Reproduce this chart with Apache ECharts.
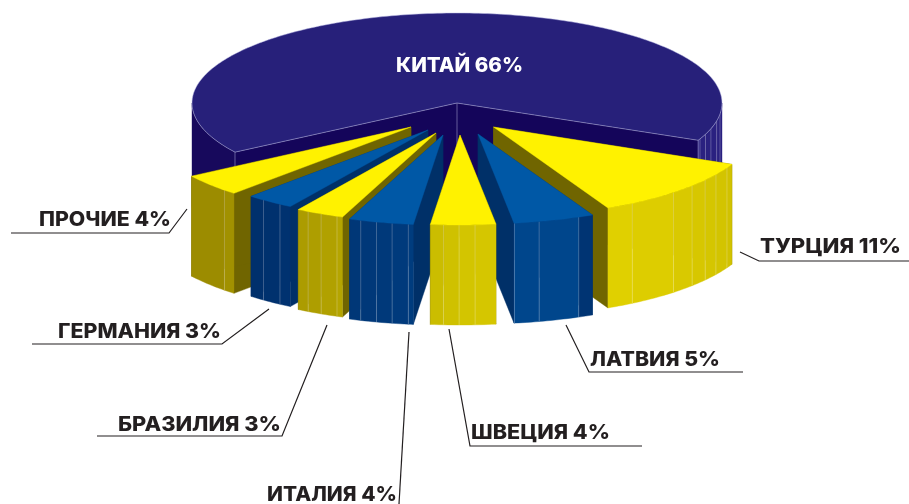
<!DOCTYPE html>
<html>
<head>
<meta charset="utf-8">
<title>Exploded 3D pie</title>
<script src="https://cdn.jsdelivr.net/npm/echarts@6/dist/echarts.min.js"></script>
<style>
html, body { margin: 0; padding: 0; background: #fff; }
#chart { width: 909px; height: 504px; }
</style>
</head>
<body>
<div id="chart"></div>
<script>
// data, clockwise from the right edge of the big slice
const categories = ['КИТАЙ', 'ТУРЦИЯ', 'ЛАТВИЯ', 'ШВЕЦИЯ', 'ИТАЛИЯ', 'БРАЗИЛИЯ', 'ГЕРМАНИЯ', 'ПРОЧИЕ'];
const shares = [66, 11, 5, 4, 4, 3, 3, 4];
const hues = ['navy', 'yellow', 'blue', 'yellow', 'blue', 'yellow', 'blue', 'yellow'];

// pie projection
const CX = 457, CY = 103, RX = 265, RX_PULLED = 262, RY = 90, DEPTH = 100;
const explodeOffsets = [[0, 0], [36.5, 24], [21, 31], [3, 32], [-14, 32], [-21, 30], [-29, 27], [-46, 24]];

// angles (deg) of the facet lines on the outer walls
const seams = [7, 11.5, 16.6, 20.3, 23.5, 27, 31.9, 36.1, 40.7, 46.6, 58, 67.4, 76.5, 82, 86.7, 90.2, 93.6,
  97.6, 101.2, 104.7, 108.3, 112.2, 116, 119.2, 124.4, 128.9, 135.4];

const topColor = { navy: '#27207a', yellow: '#fff200', blue: '#0058a6' };
const faceColor = { navy: '#14055a', yellow: '#706500', blue: '#003068' };
const wallStops = {
  navy: [[0, '#2a2180'], [30, '#2a2180'], [140, '#17095c'], [180, '#17095c']],
  yellow: [[20, '#cfc000'], [60, '#e0d000'], [90, '#d2c400'], [115, '#b0a000'], [140, '#9c8c00']],
  blue: [[64, '#002660'], [68, '#00468c'], [80, '#00468c'], [100, '#003a7c'], [130, '#00306c']]
};

function wallColor(hue, angle) {
  const stops = wallStops[hue];
  for (let i = 1; i < stops.length; i++) {
    if (angle <= stops[i][0]) {
      const t = Math.max(0, (angle - stops[i - 1][0]) / (stops[i][0] - stops[i - 1][0]));
      return echarts.color.lerp(t, [stops[i - 1][1], stops[i][1]]);
    }
  }
  return stops[stops.length - 1][1];
}

// cumulative share -> degrees, KITAY first and ending at CHINA_END
const CHINA_END = 24.5;
function shareToAngle(pct) {
  const from = CHINA_END - shares[0] * 3.6;
  return echarts.number.linearMap(pct, [0, 100], [from, from + 360]);
}

let running = 0;
const sliceData = categories.map((name, i) => {
  const item = { name, value: [running, running + shares[i], i] };
  running += shares[i];
  return item;
}).sort((a, b) => {
  // far slices first so the near ones paint over them
  const dist = d => Math.abs((shareToAngle(d.value[0]) + shareToAngle(d.value[1])) / 2 - 90);
  return dist(b) - dist(a);
});

function rim(apex, rx, deg) {
  const r = deg * Math.PI / 180;
  return [apex[0] + rx * Math.cos(r), apex[1] + RY * Math.sin(r)];
}

function arc(apex, rx, a0, a1) {
  const pts = [];
  const n = Math.max(2, Math.ceil(Math.abs(a1 - a0)));
  for (let k = 0; k <= n; k++) pts.push(rim(apex, rx, a0 + (a1 - a0) * k / n));
  return pts;
}

function drop(p) { return [p[0], p[1] + DEPTH]; }

function poly(points, fill, stroke) {
  return {
    type: 'polygon',
    shape: { points },
    style: { fill, stroke: stroke || fill, lineWidth: stroke ? 0.7 : 0.4 }
  };
}

function seg(a, b, color, width) {
  return {
    type: 'line',
    shape: { x1: a[0], y1: a[1], x2: b[0], y2: b[1] },
    style: { stroke: color, lineWidth: width || 0.8 }
  };
}

function renderSlice(params, api) {
  const idx = api.value(2);
  const hue = hues[idx];
  const a0 = shareToAngle(api.value(0));
  const a1 = shareToAngle(api.value(1));
  const off = explodeOffsets[idx];
  const apex = [CX + off[0], CY + off[1]];
  const rx = idx === 0 ? RX : RX_PULLED;
  const children = [];

  // radial faces
  [a0, a1].forEach(a => {
    const p = rim(apex, rx, a);
    children.push(poly([apex, p, drop(p), drop(apex)], faceColor[hue]));
  });

  // outer wall, only the part that faces us, cut into strips at the seams
  [[-360, -180], [0, 180]].forEach(range => {
    const from = Math.max(a0, range[0]);
    const to = Math.min(a1, range[1]);
    if (from >= to) return;
    const cuts = seams.map(s => s + range[0]).filter(s => s > from && s < to);
    const edges = [from].concat(cuts, [to]);
    for (let i = 0; i < edges.length - 1; i++) {
      const top = arc(apex, rx, edges[i], edges[i + 1]);
      const bottom = top.map(drop).reverse();
      const color = wallColor(hue, (edges[i] + edges[i + 1]) / 2 - range[0]);
      children.push(poly(top.concat(bottom), color));
    }
    cuts.forEach(c => {
      const p = rim(apex, rx, c);
      children.push(seg(p, drop(p), 'rgba(255,255,255,0.3)'));
    });
  });

  // top
  const topShape = [apex].concat(arc(apex, rx, a0, a1));
  children.push(poly(topShape, topColor[hue], hue === 'navy' ? 'rgba(190,190,230,0.7)' : null));

  if (hue === 'navy') {
    children.push(seg(apex, drop(apex), 'rgba(190,190,230,0.6)'));
    [a0, a1].forEach(a => {
      const p = rim(apex, rx, a);
      children.push(seg(p, drop(p), 'rgba(190,190,230,0.6)'));
    });
  }
  return { type: 'group', children };
}

// callouts: label left/baseline, wanted text width, and the leader line
const callouts = [
  { i: 0, x: 396, y: 72.5, w: 127, color: '#ffffff', line: null },
  { i: 1, x: 760, y: 253.5, w: 141, color: '#231f20', line: [[740, 252], [759, 261], [909, 261]] },
  { i: 2, x: 590, y: 367, w: 130, color: '#231f20', line: [[566, 325], [589, 372], [743, 372]] },
  { i: 3, x: 471, y: 440, w: 139, color: '#231f20', line: [[449, 329], [470, 446], [642, 446]] },
  { i: 4, x: 267, y: 501.5, w: 130, color: '#231f20', line: [[409, 332], [399, 504]] },
  { i: 5, x: 118, y: 432, w: 163, color: '#231f20', line: [[327, 325], [282, 436], [97, 436]] },
  { i: 6, x: 58, y: 339, w: 163, color: '#231f20', line: [[269, 309], [222, 344], [32, 344]] },
  { i: 7, x: 39, y: 227, w: 132, color: '#231f20', line: [[187, 209], [169, 233], [11, 233]] }
];

const chart = echarts.init(document.getElementById('chart'));

const ctx = document.createElement('canvas').getContext('2d');
const LABEL_FONT = '800 20px Inter';
const CAP_MIDDLE = 7;
ctx.font = LABEL_FONT;

const graphics = [];
callouts.forEach(c => {
  if (c.line) {
    graphics.push({
      type: 'polyline', z: 50, silent: true,
      shape: { points: c.line },
      style: { stroke: '#231f20', lineWidth: 1.2, fill: null }
    });
  }
  const text = categories[c.i] + ' ' + shares[c.i] + '%';
  graphics.push({
    type: 'text', z: 51, silent: true,
    x: c.x, y: c.y - CAP_MIDDLE, scaleX: c.w / ctx.measureText(text).width,
    style: {
      text, fill: c.color, font: LABEL_FONT,
      align: 'left', verticalAlign: 'middle'
    }
  });
});

chart.setOption({
  animation: false,
  backgroundColor: '#ffffff',
  graphic: { elements: graphics },
  series: [{
    type: 'custom',
    coordinateSystem: 'none',
    silent: true,
    renderItem: renderSlice,
    data: sliceData
  }]
});
</script>
</body>
</html>
